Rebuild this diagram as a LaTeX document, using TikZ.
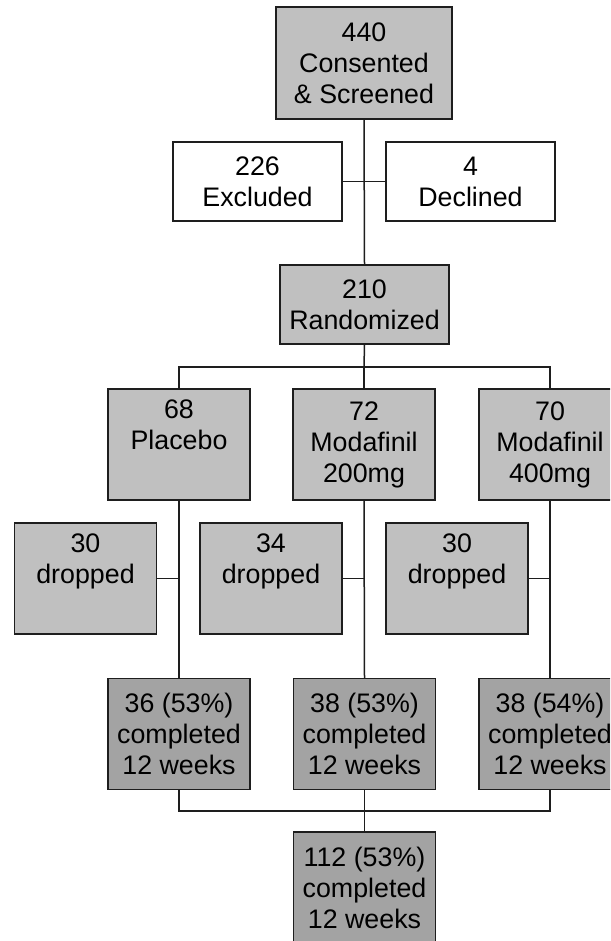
\documentclass[tikz,border=0pt]{standalone}
\usepackage{fontspec}
\setmainfont{Liberation Sans}
\definecolor{lightbox}{RGB}{192,192,192}
\definecolor{darkbox}{RGB}{163,163,163}
\definecolor{edge}{RGB}{30,30,30}
\begin{document}
\begin{tikzpicture}[x=1pt,y=-1pt,
  base/.style={draw=edge,line width=1.5pt,rectangle,inner sep=0pt,align=center,
    font=\fontsize{26.8}{31}\selectfont,text=black},
  wide/.style={base,minimum width=169pt,minimum height=79pt},
  tall/.style={base,minimum width=142pt,minimum height=111pt},
  lightb/.style={fill=lightbox},
  darkb/.style={fill=darkbox},
  whiteb/.style={fill=white},
  conn/.style={draw=edge,line width=1.5pt}]
\clip (0,0) rectangle (610,941);
\fill[white] (0,0) rectangle (610,941);
\useasboundingbox (0,0) rectangle (610,941);

\node[base,lightb,minimum width=176pt,minimum height=112pt] (top) at (364,63) {440\\Consented\\\& Screened};
\node[wide,whiteb] (excl) at (257.5,181.5) {226\\Excluded};
\node[wide,whiteb] (decl) at (470.5,181.5) {4\\Declined};
\node[wide,lightb] (rand) at (364.5,304.5) {210\\Randomized};

\node[tall,lightb] (plac) at (179,444.5) {68\\Placebo\\\strut};
\node[tall,lightb] (modA) at (364,444.5) {72\\Modafinil\\200mg};
\node[tall,lightb] (modB) at (550,444.5) {70\\Modafinil\\400mg};

\node[tall,lightb] (dropA) at (85.5,578.5) {30\\dropped\\\strut};
\node[tall,lightb] (dropB) at (271,578.5) {34\\dropped\\\strut};
\node[tall,lightb] (dropC) at (457,578.5) {30\\dropped\\\strut};

\node[tall,darkb] (compA) at (179,734) {36 (53\%)\\completed\\12 weeks};
\node[tall,darkb] (compB) at (364.5,734) {38 (53\%)\\completed\\12 weeks};
\node[tall,darkb] (compC) at (550,734) {38 (54\%)\\completed\\12 weeks};

\node[tall,darkb,minimum height=112pt] (final) at (364.5,888) {112 (53\%)\\completed\\12 weeks};

% connectors
\draw[conn] (top.south) -- (rand.north);
\draw[conn] (excl.east) -- (decl.west);
\coordinate (rj) at (364,367);
\draw[conn] (rand.south) -- (rj);
\draw[conn] (plac.north) |- (rj) -| (modB.north);
\draw[conn] (rj) -- (modA.north);

\draw[conn] (plac.south) -- (compA.north);
\draw[conn] (modA.south) -- (compB.north);
\draw[conn] (modB.south) -- (compC.north);
\draw[conn] (dropA.east) -- (dropA.east -| plac.south);
\draw[conn] (dropB.east) -- (dropB.east -| modA.south);
\draw[conn] (dropC.east) -- (dropC.east -| modB.south);

\coordinate (fj) at (364.5,811);
\draw[conn] (compA.south) |- (fj) -| (compC.south);
\draw[conn] (compB.south) -- (final.north);
\end{tikzpicture}
\end{document}
